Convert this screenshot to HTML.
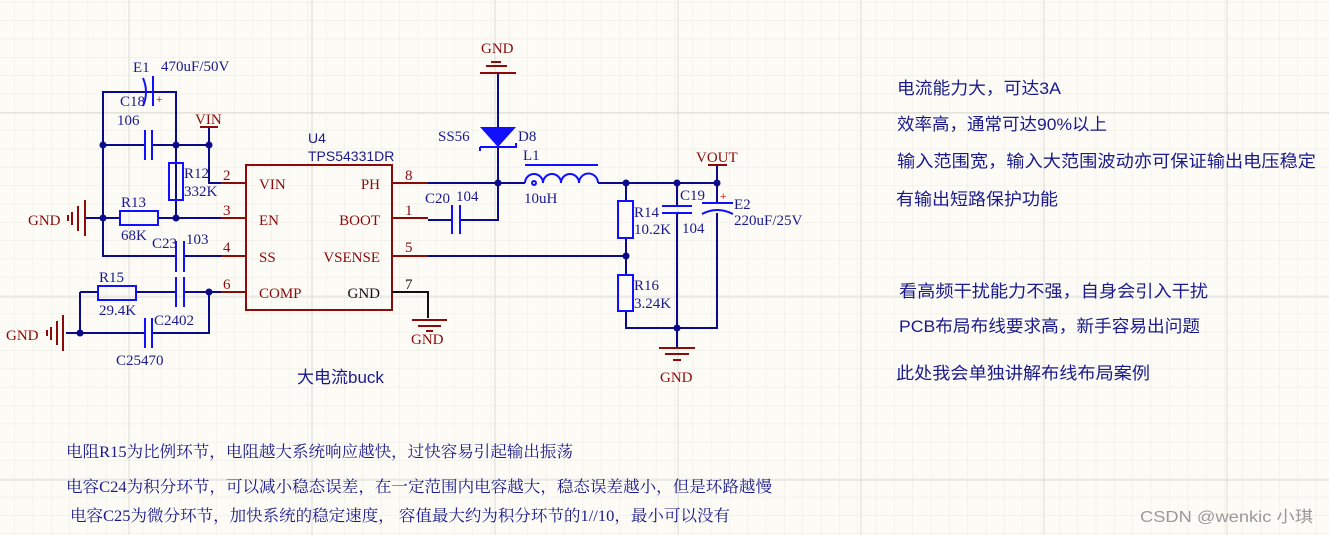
<!DOCTYPE html>
<html><head><meta charset="utf-8"><style>
html,body{margin:0;padding:0;width:1329px;height:535px;overflow:hidden;background:#fcfbf6;}
svg{display:block}
.s{font-family:"Liberation Serif","Noto Serif CJK SC",serif;font-size:15px}
.r{fill:#8b0a0a}
.b{fill:#1a1a8c}
.c{font-family:"Liberation Sans","Noto Sans CJK SC",sans-serif;font-size:17px;fill:#1a1a8c}
</style></head><body>
<svg width="1329" height="535" viewBox="0 0 1329 535" xmlns="http://www.w3.org/2000/svg">
<defs>
<pattern id="g" width="18.33" height="18.33" patternUnits="userSpaceOnUse" x="-4" y="2">
<path d="M0 0H18.33M0 0V18.33" stroke="#ebeae2" stroke-width="1" fill="none"/>
</pattern>
</defs>
<rect width="1329" height="535" fill="url(#g)"/>
<g stroke="#dcdcd5" stroke-width="1">
<line x1="129" y1="0" x2="129" y2="535"/><line x1="312" y1="0" x2="312" y2="535"/><line x1="495" y1="0" x2="495" y2="535"/><line x1="678" y1="0" x2="678" y2="535"/><line x1="861" y1="0" x2="861" y2="535"/><line x1="1044" y1="0" x2="1044" y2="535"/><line x1="1227" y1="0" x2="1227" y2="535"/>
<line x1="0" y1="113" x2="1329" y2="113"/><line x1="0" y1="297" x2="1329" y2="297"/><line x1="0" y1="480" x2="1329" y2="480"/>
</g>

<g stroke="#0a0a8a" stroke-width="2" fill="none">
<path d="M103 145V92H176V218"/>
<path d="M103 145H145M152 145H209"/>
<path d="M209 145V183H246"/>
<path d="M85 218H120M158 218H246"/>
<path d="M103 145V256H176M184 256H246"/>
<path d="M80 292H98M136 292H176M184 292H246"/>
<path d="M66 333H145M152 333H209V292"/>
<path d="M80 292V333"/>
<path d="M428 183H525M598 183H717"/>
<path d="M428 220H452M460 220H498V147"/>
<path d="M498 73V127"/>
<path d="M428 256H626"/>
<path d="M626 183V201M626 238V275M626 311V328H717V213M717 183V203"/>
<path d="M677 183V206M677 213V348"/>
<path d="M209 127V145M717 165V183"/>
</g>
<g fill="#0a0a8a">
<circle cx="103" cy="145" r="3.5"/><circle cx="176" cy="145" r="3.5"/><circle cx="209" cy="145" r="3.5"/>
<circle cx="103" cy="218" r="3.5"/><circle cx="176" cy="218" r="3.5"/><circle cx="209" cy="292" r="3.5"/>
<circle cx="80" cy="333" r="3.5"/><circle cx="498" cy="183" r="3.5"/><circle cx="626" cy="183" r="3.5"/>
<circle cx="677" cy="183" r="3.5"/><circle cx="717" cy="183" r="3.5"/><circle cx="626" cy="256" r="3.5"/><circle cx="677" cy="328" r="3.5"/>
</g>

<g stroke="#1010ff" stroke-width="2" fill="none">
<path d="M153 76V106"/><path d="M143 78Q149 92 143 106"/>
<path d="M145 130V160M152 130V160"/>
<rect x="169" y="163" width="14" height="37"/>
<rect x="120" y="211" width="38" height="14"/>
<path d="M176 241V272M184 241V272"/>
<path d="M176 277V307M184 277V307"/>
<rect x="98" y="286" width="38" height="14"/>
<path d="M145 318V348M152 318V348"/>
<path d="M452 205V234M460 205V234"/>
<path d="M480 147H516V143M480 147V151"/>
<path d="M525 165H598"/>
<path d="M525 183a9 9 0 0 1 18 0a9 9 0 0 1 18 0a9 9 0 0 1 18 0a9 9 0 0 1 19 0"/>
<circle cx="534" cy="183" r="2"/>
<rect x="618" y="201" width="15" height="37"/>
<rect x="618" y="275" width="15" height="36"/>
<path d="M662 206H692M662 213H692"/>
<path d="M702 203H733"/><path d="M702 214Q717 206 733 214"/>
</g>
<path d="M480 127H516L498 147Z" fill="#1010ff"/>
<text x="156" y="103" font-size="11" fill="#e02020" font-family="Liberation Sans,sans-serif">+</text>
<text x="720" y="200" font-size="11" fill="#e02020" font-family="Liberation Sans,sans-serif">+</text>

<g stroke="#8b0a0a" stroke-width="2" fill="none">
<rect x="246" y="165" width="146" height="145"/>
<path d="M221 183H246M221 218H246M221 256H246M221 292H246"/>
<path d="M392 183H428M392 218H428M392 256H428"/>
<path d="M200 127H218M708 165H727"/>
<path d="M85 200V236M78 206V231M72 212V225M68 215V221"/>
<path d="M63 315V351M57 321V345M51 327V340M47 330V336"/>
<path d="M480 73H516M486 66H507M491 62H501"/>
<path d="M412 320H447M418 326H441M426 331H433"/>
<path d="M659 348H695M665 354H689M673 360H681"/>
</g>
<path d="M392 292H428V318" stroke="#111" stroke-width="2" fill="none"/>

<g class="s r">
<text x="195" y="124">VIN</text>
<text x="696" y="162">VOUT</text>
<text x="28" y="225">GND</text>
<text x="6" y="340">GND</text>
<text x="481" y="53">GND</text>
<text x="411" y="344">GND</text>
<text x="660" y="382">GND</text>
<text x="223" y="180">2</text><text x="223" y="215">3</text><text x="223" y="252">4</text><text x="223" y="289">6</text>
<text x="405" y="180">8</text><text x="405" y="215">1</text><text x="405" y="252">5</text>
<text x="259" y="189">VIN</text><text x="259" y="225">EN</text><text x="259" y="262">SS</text><text x="259" y="298">COMP</text>
<text x="380" y="189" text-anchor="end">PH</text><text x="380" y="225" text-anchor="end">BOOT</text><text x="380" y="262" text-anchor="end">VSENSE</text>
</g>
<text class="s" x="380" y="298" text-anchor="end" fill="#111">GND</text>
<text class="s" x="405" y="289" fill="#111">7</text>

<g class="s b">
<text x="133" y="72">E1</text><text x="161" y="71">470uF/50V</text>
<text x="120" y="106">C18</text><text x="117" y="125">106</text>
<text x="184" y="178">R12</text><text x="184" y="196">332K</text>
<text x="121" y="207">R13</text><text x="121" y="240">68K</text>
<text x="152" y="248">C23</text><text x="186" y="244">103</text>
<text x="99" y="282">R15</text><text x="99" y="315">29.4K</text>
<text x="154" y="325">C2402</text><text x="116" y="365">C25470</text>
<text x="438" y="141">SS56</text><text x="518" y="141">D8</text>
<text x="523" y="160">L1</text><text x="524" y="203">10uH</text>
<text x="425" y="203">C20</text><text x="456" y="201">104</text>
<text x="634" y="217">R14</text><text x="634" y="234">10.2K</text>
<text x="634" y="290">R16</text><text x="634" y="308">3.24K</text>
<text x="680" y="200">C19</text><text x="682" y="233">104</text>
<text x="734" y="209">E2</text><text x="734" y="225">220uF/25V</text>
</g>
<text x="308" y="143" font-family="Liberation Sans,sans-serif" font-size="14" fill="#1a1a8c">U4</text>
<text x="308" y="161" font-family="Liberation Sans,sans-serif" font-size="14" fill="#1a1a8c">TPS54331DR</text>
<text class="c" x="297" y="383" font-size="16">大电流buck</text>

<g class="c">
<text x="897" y="94" textLength="164" lengthAdjust="spacingAndGlyphs">电流能力大，可达3A</text>
<text x="897" y="130" textLength="210" lengthAdjust="spacingAndGlyphs">效率高，通常可达90%以上</text>
<text x="897" y="167" textLength="419" lengthAdjust="spacingAndGlyphs">输入范围宽，输入大范围波动亦可保证输出电压稳定</text>
<text x="896" y="205" textLength="162" lengthAdjust="spacingAndGlyphs">有输出短路保护功能</text>
<text x="899" y="297" textLength="309" lengthAdjust="spacingAndGlyphs">看高频干扰能力不强，自身会引入干扰</text>
<text x="899" y="332" textLength="301" lengthAdjust="spacingAndGlyphs">PCB布局布线要求高，新手容易出问题</text>
<text x="896" y="379" textLength="254" lengthAdjust="spacingAndGlyphs">此处我会单独讲解布线布局案例</text>
</g>
<g font-family="Liberation Serif,Noto Serif CJK SC,serif" font-size="16" fill="#1a1a8c">
<text x="66" y="457" textLength="507" lengthAdjust="spacingAndGlyphs">电阻R15为比例环节，电阻越大系统响应越快，过快容易引起输出振荡</text>
<text x="66" y="492" textLength="706" lengthAdjust="spacingAndGlyphs">电容C24为积分环节，可以减小稳态误差，在一定范围内电容越大，稳态误差越小，但是环路越慢</text>
<text x="70" y="521" textLength="660" lengthAdjust="spacingAndGlyphs">电容C25为微分环节，加快系统的稳定速度， 容值最大约为积分环节的1//10，最小可以没有</text>
</g>
<text x="1140" y="522" font-family="Liberation Sans,Noto Sans CJK SC,sans-serif" font-size="16" fill="#999" textLength="173" lengthAdjust="spacingAndGlyphs">CSDN @wenkic 小琪</text>
</svg>
</body></html>
